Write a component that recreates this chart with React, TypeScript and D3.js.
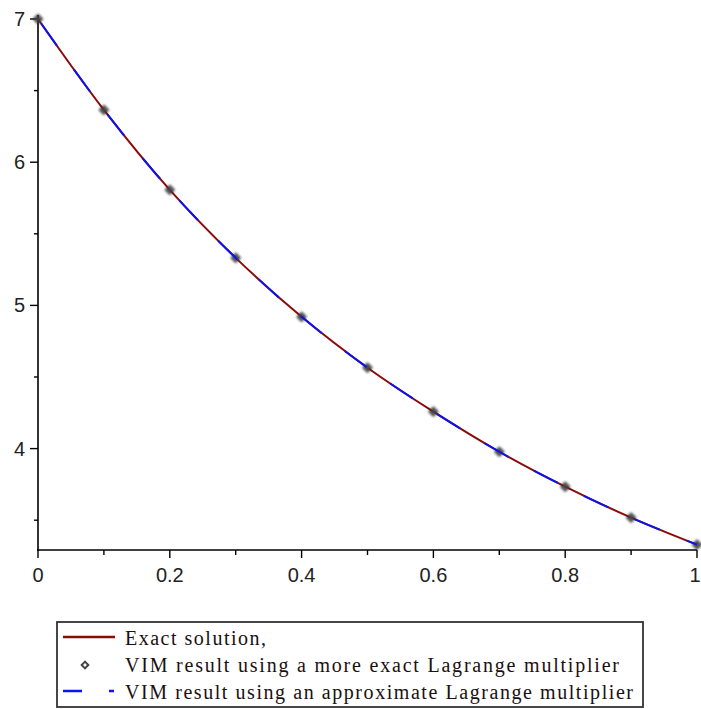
import React from "react";
import * as d3 from "d3";

const xValues = [0, 0.1, 0.2, 0.3, 0.4, 0.5, 0.6, 0.7, 0.8, 0.9, 1.0];
const exactValues = [7.0, 6.365, 5.807, 5.332, 4.92, 4.565, 4.258, 3.978, 3.734, 3.518, 3.329];
const vimExactValues = [7.0, 6.365, 5.807, 5.332, 4.92, 4.565, 4.258, 3.978, 3.734, 3.518, 3.329];
const vimApproxValues = [7.0, 6.365, 5.807, 5.332, 4.92, 4.565, 4.258, 3.978, 3.734, 3.518, 3.329];

const xTickLabels = ["0", "0.2", "0.4", "0.6", "0.8", "1"];
const xTickValues = [0, 0.2, 0.4, 0.6, 0.8, 1];
const xMinorTicks = [0.1, 0.3, 0.5, 0.7, 0.9];
const yTickLabels = ["4", "5", "6", "7"];
const yTickValues = [4, 5, 6, 7];
const yMinorTicks = [3.5, 4.5, 5.5, 6.5];
const legendLabels = [
  "Exact solution,",
  "VIM result using a more exact Lagrange multiplier",
  "VIM result using an approximate Lagrange multiplier",
];

export default function App() {
  const W = 701;
  const H = 709;
  const x = d3.scaleLinear().domain([0, 1]).range([38, 697]);
  const y = d3.scaleLinear().domain([7, 4]).range([19, 448.6]);
  const axisY = 550;
  const yBottom = y.invert(axisY);

  const line = d3
    .line<[number, number]>()
    .x((d) => x(d[0]))
    .y((d) => y(d[1]))
    .curve(d3.curveCatmullRom);

  const exactPts = xValues.map((v, i) => [v, exactValues[i]] as [number, number]);
  const approxPts = xValues.map((v, i) => [v, vimApproxValues[i]] as [number, number]);
  const square = d3.symbol().type(d3.symbolSquare).size(44)() as string;
  const squareLeg = d3.symbol().type(d3.symbolSquare).size(22)() as string;

  const tickFont = "'Liberation Sans', Arial, sans-serif";
  const legFont = "'Liberation Serif', 'Times New Roman', serif";

  return (
    <svg
      width={W}
      height={H}
      style={{ position: "absolute", left: 0, top: 0, background: "#fff" }}
    >
      <defs>
        <filter id="blur" x="-50%" y="-50%" width="200%" height="200%">
          <feGaussianBlur stdDeviation="1" />
        </filter>
      </defs>
      <rect x={0} y={0} width={W} height={H} fill="#fff" />
      {/* axes */}
      <line x1={x(0)} x2={x(0)} y1={15} y2={axisY + 1} stroke="#000" strokeWidth={1.6} />
      <line x1={x(0) - 1} x2={x(1)} y1={axisY} y2={axisY} stroke="#000" strokeWidth={1.6} />
      {yTickValues.map((v, i) => (
        <g key={"yt" + i}>
          <line x1={30} x2={x(0)} y1={y(v)} y2={y(v)} stroke="#000" strokeWidth={1.4} />
          <text
            x={25}
            y={y(v) + 7}
            textAnchor="end"
            fontFamily={tickFont}
            fontSize={20}
            fill="#222"
          >
            {yTickLabels[i]}
          </text>
        </g>
      ))}
      {yMinorTicks
        .filter((v) => v > yBottom)
        .map((v, i) => (
          <line key={"ym" + i} x1={34} x2={x(0)} y1={y(v)} y2={y(v)} stroke="#000" strokeWidth={1.4} />
        ))}
      {xTickValues.map((v, i) => (
        <g key={"xt" + i}>
          <line x1={x(v)} x2={x(v)} y1={axisY} y2={axisY + 8} stroke="#000" strokeWidth={1.4} />
          <text
            x={i === xTickValues.length - 1 ? x(v) - 2 : x(v)}
            y={582}
            textAnchor="middle"
            fontFamily={tickFont}
            fontSize={20}
            fill="#222"
          >
            {xTickLabels[i]}
          </text>
        </g>
      ))}
      {xMinorTicks.map((v, i) => (
        <line key={"xm" + i} x1={x(v)} x2={x(v)} y1={axisY} y2={axisY + 5} stroke="#000" strokeWidth={1.4} />
      ))}

      {/* curves */}
      <path d={line(exactPts) as string} fill="none" stroke="#8b0a0a" strokeWidth={2} />
      {xValues.map((v, i) => (
        <path
          key={"m" + i}
          d={square}
          transform={`translate(${x(v)},${y(vimExactValues[i])}) rotate(45)`}
          fill="#444"
          stroke="#222"
          strokeWidth={1}
          opacity={0.9}
          filter="url(#blur)"
        />
      ))}
      <path
        d={line(approxPts) as string}
        fill="none"
        stroke="#0a14f0"
        strokeWidth={2}
        strokeDasharray="27,29"
        strokeDashoffset={-6}
      />

      {/* legend */}
      <rect x={57} y={622} width={586} height={85} fill="#fff" stroke="#333" strokeWidth={1.8} />
      <line x1={63} x2={115} y1={637} y2={637} stroke="#8b0a0a" strokeWidth={2.5} />
      <path d={squareLeg} transform="translate(85,665) rotate(45)" fill="#fff" stroke="#444" strokeWidth={2} />
      <line x1={63} x2={114} y1={691} y2={691} stroke="#0a14f0" strokeWidth={2.5} strokeDasharray="19,27" />
      <text x={125} y={645} fontFamily={legFont} fontSize={20} fill="#1a1010" textLength={141} lengthAdjust="spacing">
        {legendLabels[0]}
      </text>
      <text x={125} y={672} fontFamily={legFont} fontSize={20} fill="#1a1010" textLength={494} lengthAdjust="spacing">
        {legendLabels[1]}
      </text>
      <text x={125} y={699} fontFamily={legFont} fontSize={20} fill="#1a1010" textLength={508} lengthAdjust="spacing">
        {legendLabels[2]}
      </text>
    </svg>
  );
}
